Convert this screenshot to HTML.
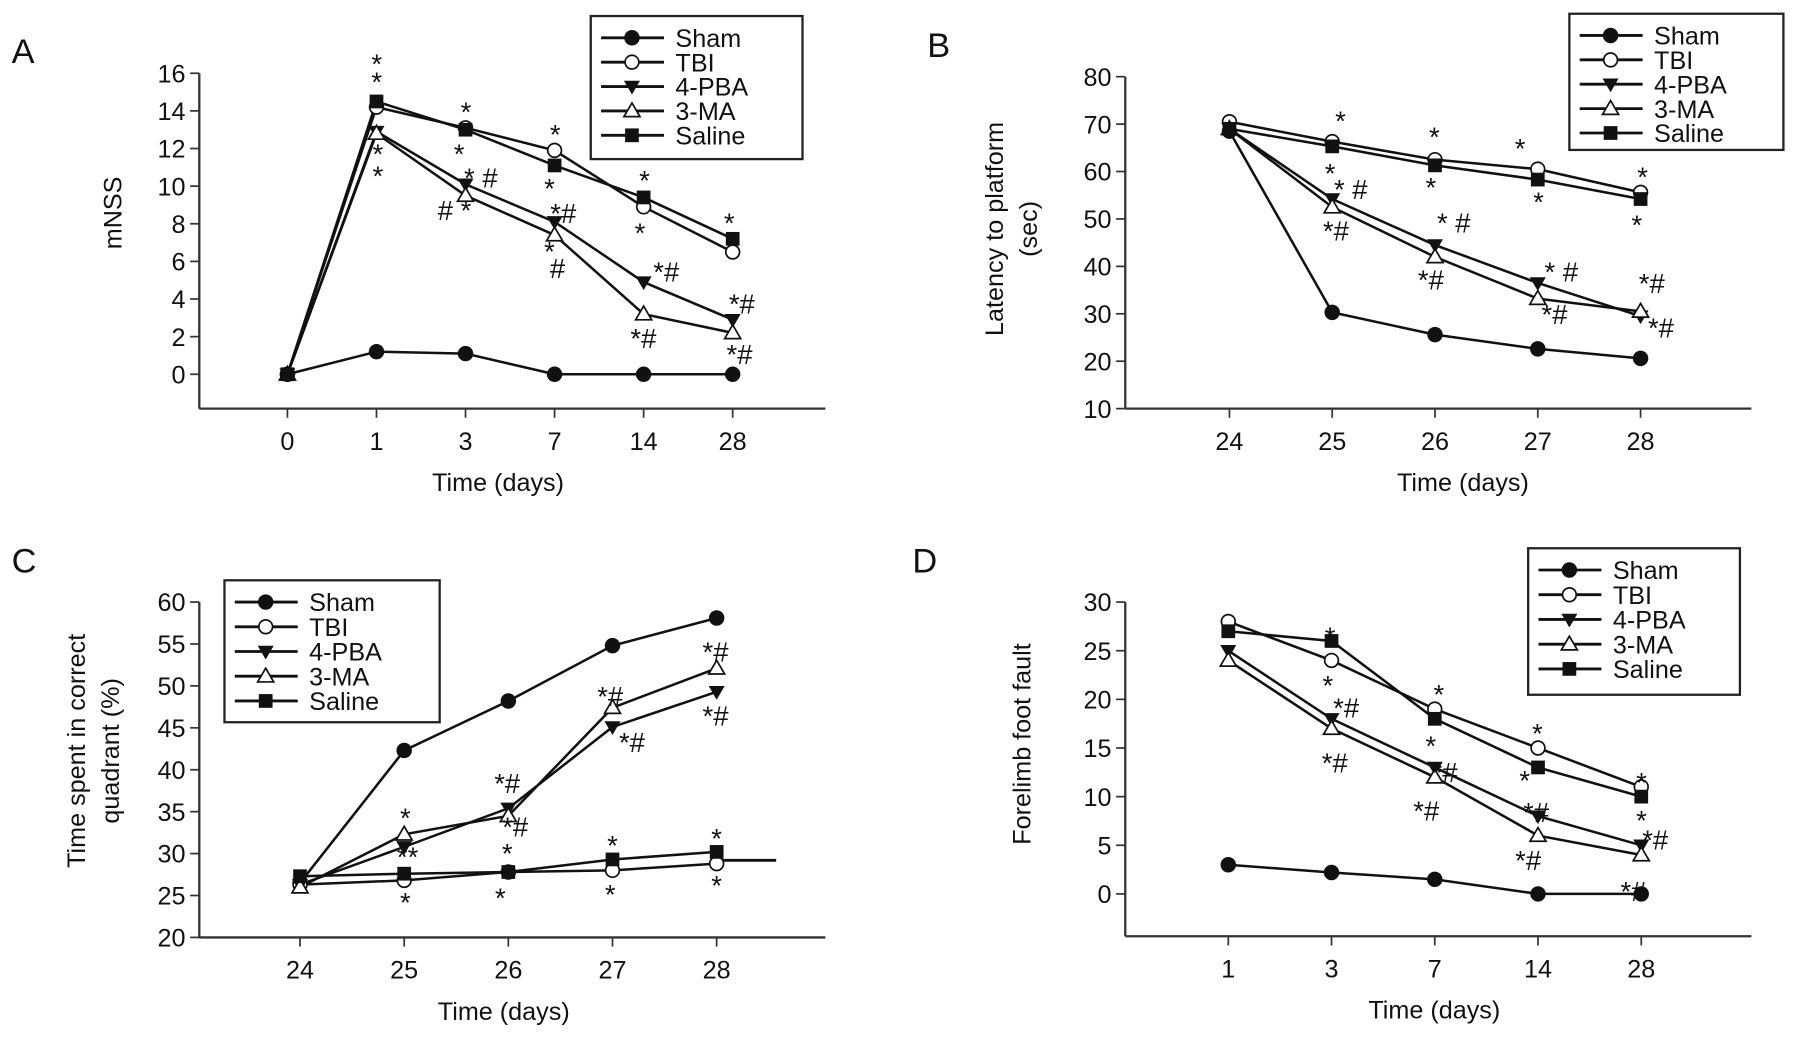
<!DOCTYPE html>
<html><head><meta charset="utf-8"><style>
html,body{margin:0;padding:0;background:#fff;}
svg{display:block;}
text{font-family:"Liberation Sans",Arial,sans-serif;fill:#111;}
</style></head>
<body>
<svg id="fig" width="1795" height="1037" viewBox="0 0 1568 906" xmlns="http://www.w3.org/2000/svg"></svg>
<script>
// ---- data ----
const seriesNames = ["Sham","TBI","4-PBA","3-MA","Saline"];
const markers = ["circleFill","circleOpen","triDown","triUpOpen","square"];

const catsA = ["0","1","3","7","14","28"];
const shamA = [0,1.2,1.1,0,0,0];
const tbiA = [0,14.2,13.1,11.9,8.9,6.5];
const pbaA = [0,12.9,10.1,8.1,4.9,2.9];
const maA = [0,12.8,9.5,7.4,3.2,2.2];
const salineA = [0,14.5,13.0,11.1,9.4,7.2];
const ticksA = [0,2,4,6,8,10,12,14,16];

const catsB = ["24","25","26","27","28"];
const shamB = [68.5,30.3,25.6,22.6,20.6];
const tbiB = [70.5,66.3,62.5,60.5,55.6];
const pbaB = [69,54.2,44.5,36.5,29.5];
const maB = [69,52.5,42,33.2,30.5];
const salineB = [69,65.3,61.3,58.3,54.2];
const ticksB = [10,20,30,40,50,60,70,80];

const catsC = ["24","25","26","27","28"];
const shamC = [26.5,42.3,48.2,54.8,58.1];
const tbiC = [26.3,26.8,27.8,28.0,28.8];
const pbaC = [26.3,30.8,35.4,45.1,49.3];
const maC = [26.0,32.3,34.5,47.4,52.1];
const salineC = [27.3,27.6,27.8,29.3,30.2];
const ticksC = [20,25,30,35,40,45,50,55,60];

const catsD = ["1","3","7","14","28"];
const shamD = [3,2.2,1.5,0,0];
const tbiD = [28,24,19,15,11];
const pbaD = [25,18,13,8,5];
const maD = [24,17,12,6,4];
const salineD = [27,26,18,13,10];
const ticksD = [0,5,10,15,20,25,30];

const NS="http://www.w3.org/2000/svg";
const svg=document.getElementById('fig');
function el(tag,attrs,parent,txt){const e=document.createElementNS(NS,tag);for(const k in attrs)e.setAttribute(k,attrs[k]);if(txt!==undefined)e.textContent=txt;(parent||svg).appendChild(e);return e;}

function marker(g,type,x,y){
  let m;
  if(type==="circleFill") m=el('circle',{cx:x,cy:y,r:6,fill:'#111',stroke:'#111','stroke-width':1.5},g);
  else if(type==="circleOpen") m=el('circle',{cx:x,cy:y,r:6,fill:'#fff',stroke:'#111','stroke-width':1.5},g);
  else if(type==="triDown") m=el('polygon',{points:`${x-7},${y-5} ${x+7},${y-5} ${x},${y+7}`,fill:'#111'},g);
  else if(type==="triUpOpen") m=el('polygon',{points:`${x-7},${y+5} ${x+7},${y+5} ${x},${y-7}`,fill:'#fff',stroke:'#111','stroke-width':1.5},g);
  else m=el('rect',{x:x-6,y:y-6,width:12,height:12,fill:'#111'},g);
  return m;
}

function drawPanel(c){
  const g=el('g',{});
  
  
  const yS=v=>c.y0px+(v-c.y0)*(c.y1px-c.y0px)/(c.y1-c.y0);
  const xS=i=>c.x0px+i*c.dx;
  const lab=el('text',{x:c.lx,y:c.ly,'font-size':30},g,c.letter);
  
  
  const ya=el('line',{x1:c.axX,y1:c.axTop,x2:c.axX,y2:c.axY,stroke:'#333','stroke-width':2},g);
  
  
  const xa=el('line',{x1:c.axX,y1:c.axY,x2:c.axRight,y2:c.axY,stroke:'#333','stroke-width':2},g);
  
  
  c.ticks.forEach(t=>{
    const y=yS(t);
    el('line',{x1:c.axX-8,y1:y,x2:c.axX,y2:y,stroke:'#333','stroke-width':1.5},g);
    const tl=el('text',{x:c.axX-12,y:y+8,'font-size':22,'text-anchor':'end'},g,String(t));
    
    
  });
  c.cats.forEach((t,i)=>{
    const x=xS(i);
    el('line',{x1:x,y1:c.axY,x2:x,y2:c.axY+8,stroke:'#333','stroke-width':1.5},g);
    const tl=el('text',{x:x,y:c.axY+36,'font-size':22,'text-anchor':'middle'},g,t);
    
    
  });
  const xt=el('text',{x:c.xtX,y:c.axY+72,'font-size':22,'text-anchor':'middle'},g,'Time (days)');
  
  
  c.ylab.forEach((s,k)=>{
    const t=el('text',{x:0,y:0,'font-size':22,'text-anchor':'middle',transform:`translate(${c.ylx+k*30},${c.yly}) rotate(-90)`},g,s);
    
    
  });
  if(c.extra){
    const e=el('line',{x1:xS(c.cats.length-1),y1:yS(c.extra),x2:xS(c.cats.length-1)+52,y2:yS(c.extra),stroke:'#111','stroke-width':2.5},g);
    
    
  }
  c.series.forEach((vals,si)=>{
    const pts=vals.map((v,i)=>xS(i)+','+yS(v)).join(' ');
    const pl=el('polyline',{points:pts,fill:'none',stroke:'#111','stroke-width':2.2},g);
    
    
  });
  c.series.forEach((vals,si)=>{
    vals.forEach((v,i)=>{
      const m=marker(g,markers[si],xS(i),yS(v));
      
      
    });
  });
  c.ann.forEach(a=>{
    const t=el('text',{x:a[0],y:a[1],'font-size':24,'text-anchor':'middle'},g,a[2]);
    
    
  });
  const L=c.leg;
  const lg=el('g',{},g);
  
  
  el('rect',{x:L.x,y:L.y,width:L.w,height:L.h,fill:'#fff',stroke:'#222','stroke-width':2},lg);
  seriesNames.forEach((n,i)=>{
    const y=L.y+19+i*L.sp;
    const en=el('g',{},lg);
    
    
    el('line',{x1:L.x+9,y1:y,x2:L.x+64,y2:y,stroke:'#111','stroke-width':2.5},en);
    marker(en,markers[i],L.x+36,y);
    el('text',{x:L.x+74,y:y+8,'font-size':22},en,n);
  });
}

drawPanel({name:'panel-a-mnss',letter:'A',lx:10,ly:55,cats:catsA,series:[shamA,tbiA,pbaA,maA,salineA],ticks:ticksA,
  y0:0,y1:16,y0px:327,y1px:64,x0px:251,dx:77.8,axX:174,axTop:64,axY:357,axRight:721,xtX:435,
  ylab:['mNSS'],ylx:106,yly:186,
  leg:{x:516,y:14,w:185,h:125,sp:21.3},
  ann:[[329,64,'*'],[329,80,'*'],[330,143,'*'],[330,162,'*'],[407,106,'*'],[401,143,'*'],[420,164,'* #'],[397,192,'# *'],[485,126,'*'],[480,173,'*'],[492,195,'*#'],[480,228,'*'],[487,243,'#'],[563,166,'*'],[559,212,'*'],[582,246,'*#'],[562,304,'*#'],[637,203,'*'],[648,274,'*#'],[646,318,'*#']]});

drawPanel({name:'panel-b-latency',letter:'B',lx:810,ly:50,cats:catsB,series:[shamB,tbiB,pbaB,maB,salineB],ticks:ticksB,
  y0:10,y1:80,y0px:357,y1px:67,x0px:1074,dx:89.8,axX:983,axTop:67,axY:357,axRight:1530,xtX:1278,
  ylab:['Latency to platform','(sec)'],ylx:876,yly:200,
  leg:{x:1371,y:12,w:187,h:119,sp:21.3},
  ann:[[1171,114,'*'],[1162,160,'*'],[1180,174,'* #'],[1167,210,'*#'],[1253,128,'*'],[1250,172,'*'],[1270,203,'* #'],[1250,253,'*#'],[1328,138,'*'],[1344,185,'*'],[1364,246,'* #'],[1358,283,'*#'],[1435,163,'*'],[1430,205,'*'],[1443,256,'*#'],[1451,295,'*#']]});

drawPanel({name:'panel-c-quadrant-time',letter:'C',lx:10,ly:500,cats:catsC,series:[shamC,tbiC,pbaC,maC,salineC],ticks:ticksC,
  y0:20,y1:60,y0px:819,y1px:526,x0px:262,dx:91,axX:174,axTop:526,axY:819,axRight:721,xtX:440,
  ylab:['Time spent in correct','quadrant (%)'],ylx:74,yly:656,extra:29.2,
  leg:{x:196,y:507,w:188,h:124,sp:21.6},
  ann:[[354,723,'*'],[356,757,'**'],[354,797,'*'],[443,693,'*#'],[450,731,'*#'],[443,754,'*'],[437,793,'*'],[533,617,'*#'],[552,657,'*#'],[535,747,'*'],[533,790,'*'],[625,578,'*#'],[625,634,'*#'],[626,741,'*'],[626,782,'*']]});

drawPanel({name:'panel-d-foot-fault',letter:'D',lx:797,ly:500,cats:catsD,series:[shamD,tbiD,pbaD,maD,salineD],ticks:ticksD,
  y0:0,y1:30,y0px:781,y1px:526,x0px:1073,dx:90.2,axX:983,axTop:526,axY:818,axRight:1530,xtX:1253,
  ylab:['Forelimb foot fault'],ylx:900,yly:650,
  leg:{x:1335,y:479,w:185,h:128,sp:21.6},
  ann:[[1162,565,'*'],[1160,607,'*'],[1176,627,'*#'],[1166,675,'*#'],[1257,615,'*'],[1250,660,'*'],[1262,683,'*#'],[1246,717,'*#'],[1343,649,'*'],[1332,690,'*'],[1342,718,'*#'],[1335,760,'*#'],[1434,692,'*'],[1434,725,'*'],[1446,742,'*#'],[1427,787,'*#']]});
</script>
</body></html>
